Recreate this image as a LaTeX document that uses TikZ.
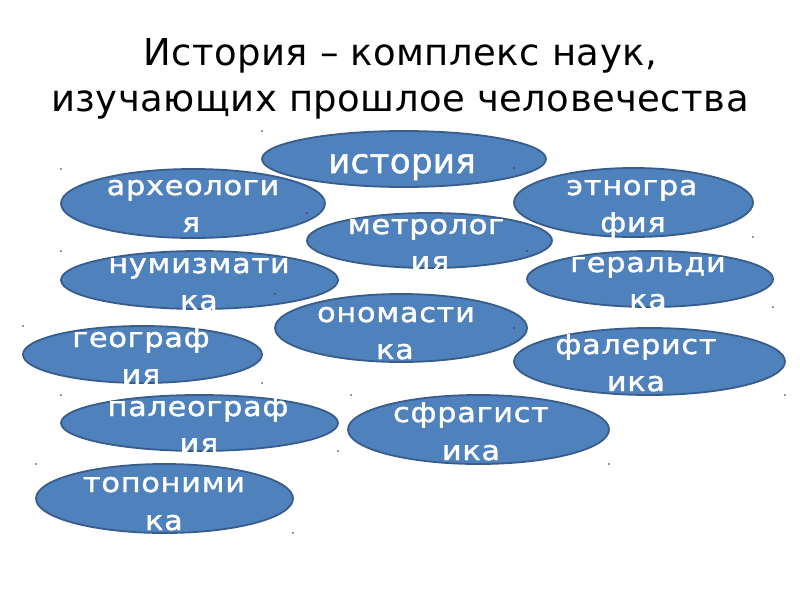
\documentclass[tikz,border=0pt]{standalone}
\usepackage{fontspec}
\setmainfont{DejaVu Sans}
\newfontfamily\titlefont[LetterSpace=1.2]{DejaVu Sans}
\newfontfamily\ovalfont[LetterSpace=3,FakeStretch=1.12,FakeBold=1.5]{DejaVu Sans}
\newfontfamily\bigovalfont[LetterSpace=1,FakeBold=1.5]{DejaVu Sans}
\definecolor{ovalfill}{RGB}{79,129,189}
\definecolor{ovalline}{RGB}{56,93,138}
\usetikzlibrary{shapes.geometric}
\tikzset{
  oval/.style={fill=ovalfill, draw=ovalline, line width=1.8pt},
  ovaltext/.style={anchor=base, text=white, inner sep=0pt, font=\ovalfont\fontsize{27}{32}\selectfont},
  bigtext/.style={anchor=base, text=white, inner sep=0pt, font=\bigovalfont\fontsize{34}{40}\selectfont},
  titletext/.style={anchor=base, text=black, inner sep=0pt, font=\titlefont\fontsize{37}{44}\selectfont},
  cornerdot/.style={fill=black!80, inner sep=0pt, minimum size=1.8pt, circle}
}
% \boxoval{name}{x1}{y1}{x2}{y2}
\newcommand{\boxoval}[5]{%
  \path[oval] ({(#2+#4)/2},{(#3+#5)/2}) ellipse ({(#4-#2)/2} and {(#5-#3)/2});
  \coordinate (#1) at ({(#2+#4)/2},{(#3+#5)/2});
}
\begin{document}
\begin{tikzpicture}[x=1pt,y=-1pt]
\useasboundingbox (0,0) rectangle (800,600);
\fill[white] (0,0) rectangle (800,600);
% title
\node[titletext] (title1) at (400,65) {История – комплекс наук,};
\node[titletext] (title2) at (400,111) {изучающих прошлое человечества};
% 1 история
\boxoval{o1}{262}{131}{546}{187}
\begin{scope}\clip (262,131) rectangle (546,187);
\node[bigtext] (t1) at (402,173) {история};
\end{scope}
% 2 археология
\boxoval{o2}{61}{169}{325}{238}
\begin{scope}\clip (61,169) rectangle (325,238);
\node[ovaltext] (t2a) at (193,195) {археологи};
\node[ovaltext] (t2b) at (191,232) {я};
\end{scope}
% 3 этнография
\boxoval{o3}{514}{168}{753}{237}
\begin{scope}\clip (514,168) rectangle (753,237);
\node[ovaltext] (t3a) at (632,195) {этногра};
\node[ovaltext] (t3b) at (633,232) {фия};
\end{scope}
% 4 метрология
\boxoval{o4}{307}{213}{552}{268}
\begin{scope}\clip (307,213) rectangle (552,268);
\node[ovaltext] (t4a) at (426,234) {метролог};
\node[ovaltext] (t4b) at (430,271) {ия};
\end{scope}
% 5 нумизматика
\boxoval{o5}{61}{251}{338}{309}
\begin{scope}\clip (61,251) rectangle (338,309);
\node[ovaltext] (t5a) at (199,273) {нумизмати};
\node[ovaltext] (t5b) at (199,310) {ка};
\end{scope}
% 6 геральдика
\boxoval{o6}{527}{251}{773}{307}
\begin{scope}\clip (527,251) rectangle (773,307);
\node[ovaltext] (t6a) at (648,272) {геральди};
\node[ovaltext] (t6b) at (648,309) {ка};
\end{scope}
% 7 ономастика
\boxoval{o7}{275}{294}{527}{362}
\begin{scope}\clip (275,294) rectangle (527,362);
\node[ovaltext] (t7a) at (396,322) {ономасти};
\node[ovaltext] (t7b) at (395,359) {ка};
\end{scope}
% 8 география
\boxoval{o8}{23}{326}{262}{383}
\begin{scope}\clip (23,326) rectangle (262,383);
\node[ovaltext] (t8a) at (141,347) {географ};
\node[ovaltext] (t8b) at (141,384) {ия};
\end{scope}
% 9 фалеристика
\boxoval{o9}{514}{328}{785}{395}
\begin{scope}\clip (514,328) rectangle (785,395);
\node[ovaltext] (t9a) at (636,354) {фалерист};
\node[ovaltext] (t9b) at (636,391) {ика};
\end{scope}
% 10 палеография
\boxoval{o10}{61}{395}{338}{451}
\begin{scope}\clip (61,395) rectangle (338,451);
\node[ovaltext] (t10a) at (198,416) {палеограф};
\node[ovaltext] (t10b) at (199,453) {ия};
\end{scope}
% 11 сфрагистика
\boxoval{o11}{348}{395}{609}{464}
\begin{scope}\clip (348,395) rectangle (609,464);
\node[ovaltext] (t11a) at (471,422) {сфрагист};
\node[ovaltext] (t11b) at (471,460) {ика};
\end{scope}
% 12 топонимика
\boxoval{o12}{36}{464}{293}{533}
\begin{scope}\clip (36,464) rectangle (293,533);
\node[ovaltext] (t12a) at (164,492) {топоними};
\node[ovaltext] (t12b) at (164,530) {ка};
\end{scope}
% corner dots
\foreach \px/\py [count=\i] in {262/131, 61/169, 61/251, 307/213, 275/294, 753/237, 773/307, 514/168, 527/251, 23/326, 262/383, 61/395, 351/395, 338/451, 36/464, 293/533, 514/328, 785/395, 609/464}
  \node[cornerdot] (d\i) at (\px,\py) {};
\end{tikzpicture}
\end{document}
